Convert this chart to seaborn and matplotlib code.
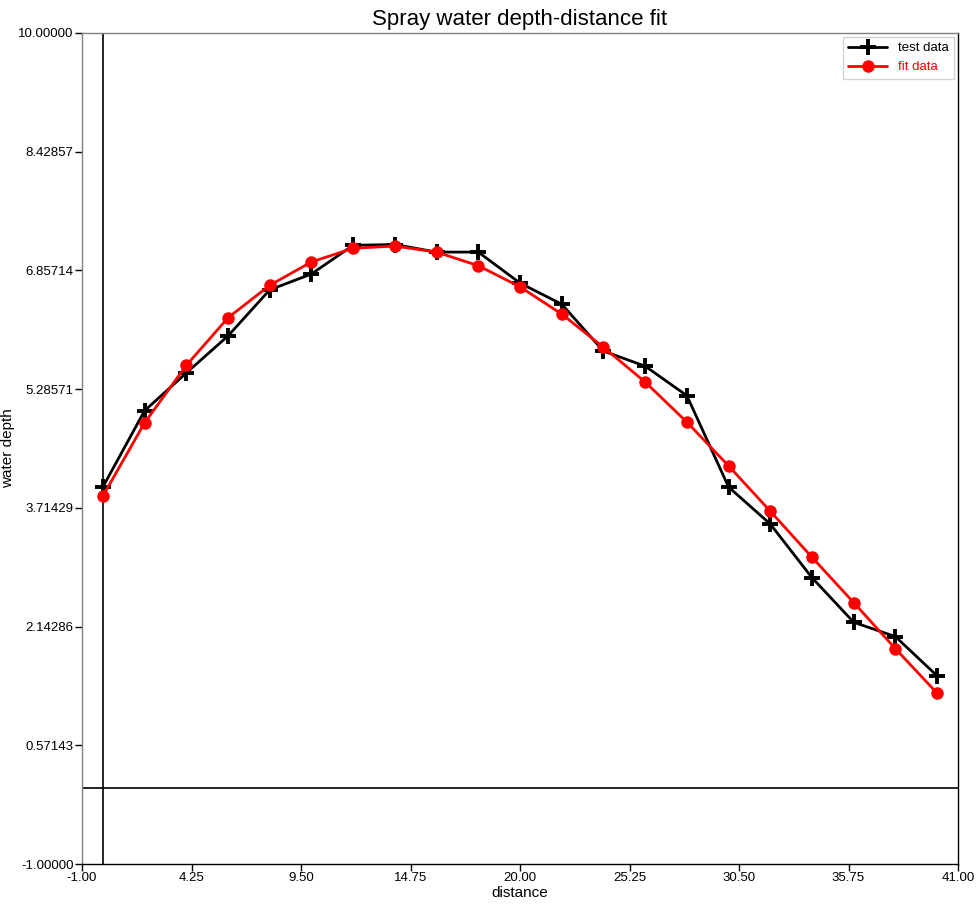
import matplotlib
matplotlib.use("Agg")
import matplotlib.pyplot as plt
import seaborn as sns
import pandas as pd
import numpy as np

distance = [0, 2, 4, 6, 8, 10, 12, 14, 16, 18, 20, 22, 24, 26, 28, 30, 32, 34, 36, 38, 40]
test_depth = [3.99, 5.00, 5.50, 5.99, 6.60, 6.81, 7.19, 7.20, 7.10, 7.10, 6.69, 6.41,
              5.79, 5.59, 5.20, 3.99, 3.50, 2.79, 2.20, 2.01, 1.49]
fit_depth = [3.87, 4.84, 5.60, 6.23, 6.66, 6.97, 7.15, 7.18, 7.10, 6.92, 6.64, 6.28,
             5.84, 5.38, 4.85, 4.27, 3.67, 3.06, 2.46, 1.85, 1.26]
x_ticks = [-1.0, 4.25, 9.5, 14.75, 20.0, 25.25, 30.5, 35.75, 41.0]
y_ticks = [-1.0, 0.57143, 2.14286, 3.71429, 5.28571, 6.85714, 8.42857, 10.0]

sns.set_style("white")
plt.rcParams['font.family'] = ['Liberation Sans', 'DejaVu Sans']
plt.rcParams['text.color'] = 'black'
plt.rcParams['axes.labelcolor'] = 'black'

df_test = pd.DataFrame({"distance": distance, "depth": test_depth})
df_fit = pd.DataFrame({"distance": distance, "depth": fit_depth})

fig = plt.figure(figsize=(9.77, 9.05), dpi=100)
ax = fig.add_axes([82/977, 1-864/905, (958-82)/977, (864-33)/905])

ax.axvline(0, color="black", lw=1.2, zorder=1)
ax.axhline(0, color="black", lw=1.2, zorder=1)

sns.lineplot(data=df_test, x="distance", y="depth", ax=ax, color="black", lw=2,
             marker="+", markersize=12, markeredgewidth=2.8, markeredgecolor="black",
             label="test data", zorder=3)
sns.lineplot(data=df_fit, x="distance", y="depth", ax=ax, color="red", lw=2,
             marker="o", markersize=9, markeredgewidth=0, markerfacecolor="red",
             label="fit data", zorder=4)

ax.set_xlim(-1, 41)
ax.set_ylim(-1, 10)
ax.set_xticks(x_ticks)
ax.set_xticklabels([f"{v:.2f}" for v in x_ticks])
ax.set_yticks(y_ticks)
ax.set_yticklabels([f"{v:.5f}" for v in y_ticks])
ax.tick_params(axis="both", direction="out", length=5, width=1, labelsize=9.5,
               left=True, bottom=True, colors="black", pad=1)
for side in ["left", "top"]:
    ax.spines[side].set_color("#808080")
for side in ["right", "bottom"]:
    ax.spines[side].set_color("black")
for s in ax.spines.values():
    s.set_linewidth(1)

ax.set_xlabel("distance", fontsize=11, labelpad=1, color="black")
ax.set_ylabel("water depth", fontsize=11, labelpad=2, color="black")
ax.set_title("Spray water depth-distance fit", fontsize=16, pad=6, color="black")

leg = ax.legend(loc="upper right", fontsize=9.5, frameon=True, fancybox=False,
                edgecolor="#c8c8c8", handlelength=3, borderpad=0.4,
                borderaxespad=0.3)
leg.get_texts()[0].set_color("black")
leg.get_texts()[1].set_color("red")

fig.savefig("out.png", dpi=100)
